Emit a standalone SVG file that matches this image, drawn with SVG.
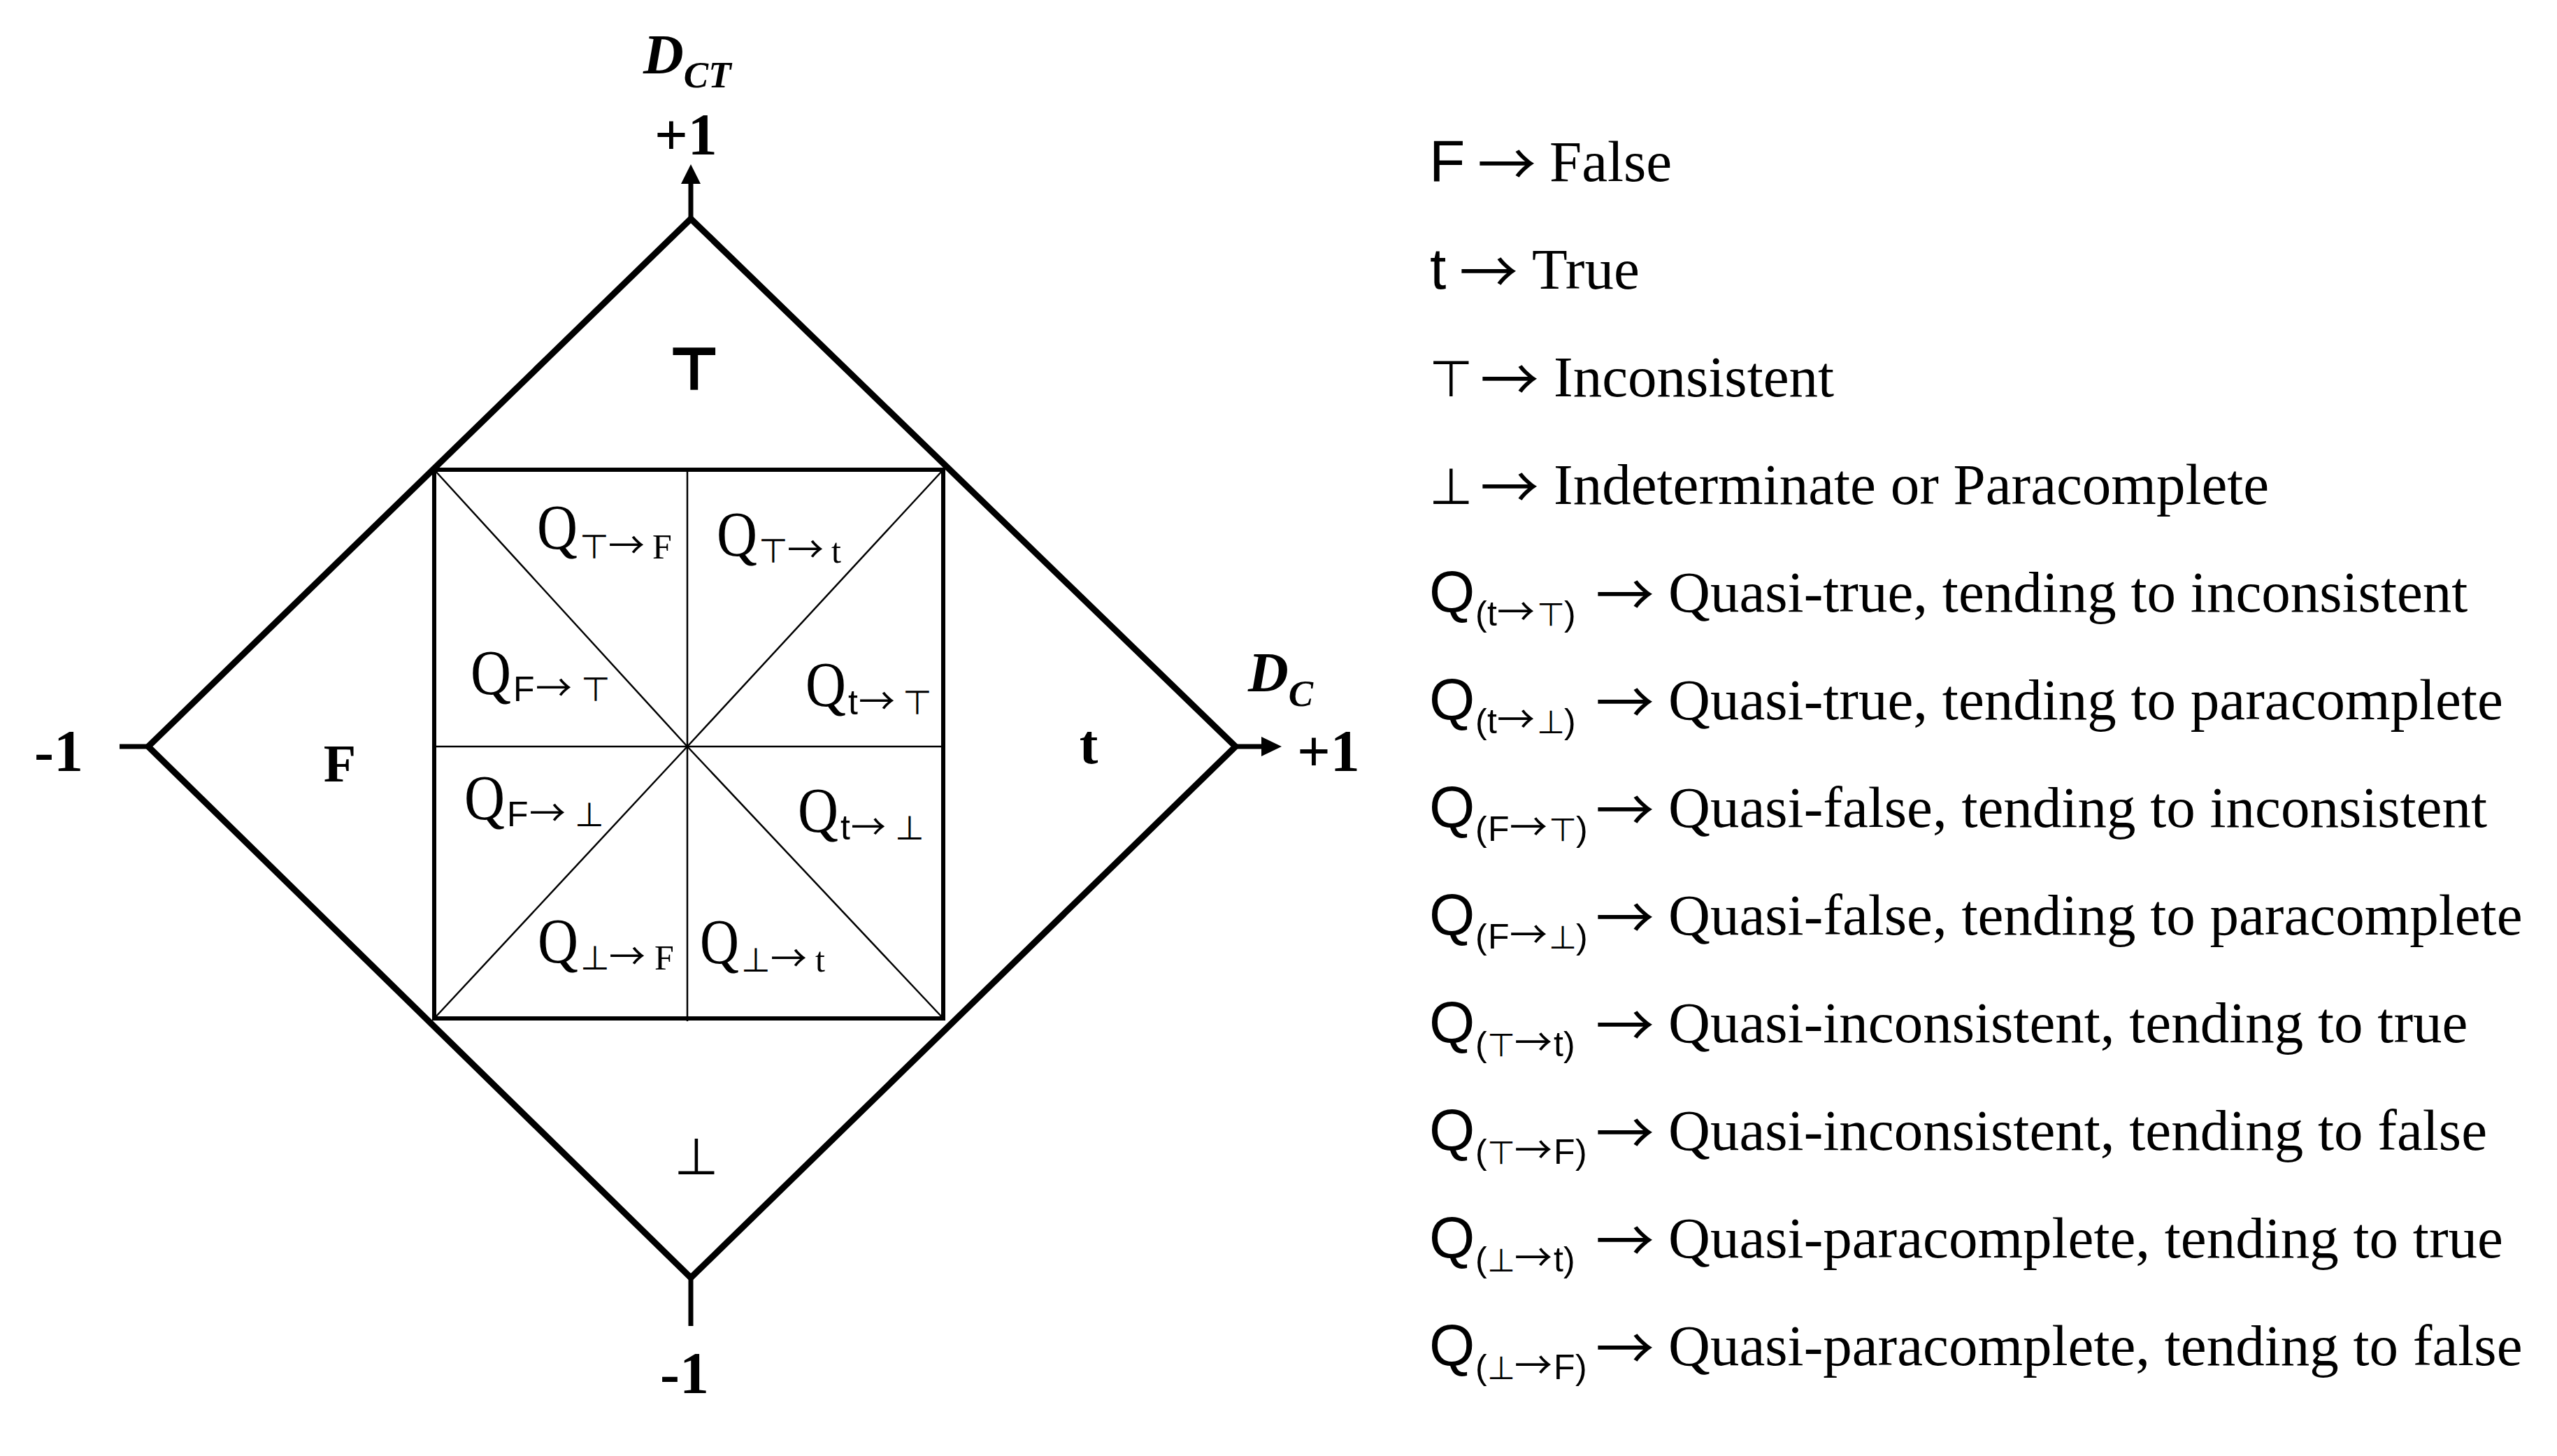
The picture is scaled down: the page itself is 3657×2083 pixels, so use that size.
<svg xmlns="http://www.w3.org/2000/svg" width="3657" height="2083" viewBox="0 0 3657 2083">
<style>
.bg{fill:#fff}
.thick{fill:none;stroke:#000;stroke-width:9;stroke-linejoin:miter}
.sq{fill:none;stroke:#000;stroke-width:6}
.thin{fill:none;stroke:#000;stroke-width:2.5}
.axis{fill:none;stroke:#000;stroke-width:7}
.head{fill:#000}
.tb{font-family:"Liberation Serif","Times New Roman",serif;font-weight:bold;fill:#000}
.tbi{font-family:"Liberation Serif","Times New Roman",serif;font-weight:bold;font-style:italic;fill:#000}
.q{font-family:"Liberation Serif","DejaVu Serif",serif;font-size:90px;fill:#000}
.sb{font-family:"Liberation Serif","DejaVu Serif",serif;font-size:50px;fill:#000}
.sans{font-family:"Liberation Sans","DejaVu Sans",sans-serif}
.sym{font-family:"DejaVu Sans",sans-serif}
.dsym{font-family:"DejaVu Sans",sans-serif;font-size:48px}
.arr{font-family:"Noto Sans CJK SC","DejaVu Sans",sans-serif}
.lg{font-family:"Liberation Serif","DejaVu Serif",serif;font-size:83px;fill:#000}
.lsans{font-family:"Liberation Sans","DejaVu Sans",sans-serif;font-size:84px}
.lsub{font-family:"Liberation Sans","DejaVu Sans",sans-serif;font-size:50px}
.lsym{font-family:"DejaVu Sans",sans-serif;font-size:46px}
.larr{font-family:"Noto Sans CJK SC","DejaVu Sans",sans-serif;font-size:84px}
.sarr{font-family:"Noto Sans CJK SC","DejaVu Sans",sans-serif;font-size:54px}
</style>
<rect class="bg" x="0" y="0" width="3657" height="2083"/>

<g id="connectors">
  <line class="axis" x1="988" y1="313" x2="988" y2="258"/>
  <polygon class="head" points="988,235 974,263 1002,263"/>
  <line class="axis" x1="1767" y1="1068" x2="1806" y2="1068"/>
  <polygon class="head" points="1833,1068 1804,1054 1804,1082"/>
  <line class="axis" x1="171" y1="1068" x2="212" y2="1068"/>
  <line class="axis" x1="988" y1="1828" x2="988" y2="1897"/>
</g>

<g id="diamond">
  <polygon class="thick" points="988,313 1767,1068 988,1828 212,1068"/>
</g>

<g id="inner-square">
  <rect class="sq" x="621" y="672" width="728" height="785"/>
  <line class="thin" x1="983" y1="672" x2="983" y2="1461"/>
  <line class="thin" x1="621" y1="1068" x2="1349" y2="1068"/>
  <line class="thin" x1="621" y1="672" x2="983" y2="1068"/>
  <line class="thin" x1="1349" y1="672" x2="983" y2="1068"/>
  <line class="thin" x1="621" y1="1457" x2="983" y2="1068"/>
  <line class="thin" x1="1349" y1="1457" x2="983" y2="1068"/>
</g>

<g id="axis-labels">
  <text class="tbi" x="920" y="105" font-size="80">D<tspan font-size="53" y="125">CT</tspan></text>
  <text class="tb" x="936" y="221" font-size="84">+1</text>
  <text class="tbi" x="1785" y="989" font-size="80">D<tspan font-size="53" y="1010">C</tspan></text>
  <text class="tb" x="1855" y="1103" font-size="84">+1</text>
  <text class="tb" x="49" y="1103" font-size="84">-1</text>
  <text class="tb" x="944" y="1993" font-size="84">-1</text>
</g>

<g id="region-top"><text class="sym" x="993" y="555" font-size="78" text-anchor="middle" stroke="#000" stroke-width="6">⊤</text></g>
<g id="region-left"><text class="tb" x="486" y="1118" font-size="76" text-anchor="middle">F</text></g>
<g id="region-right"><text class="tb" x="1557" y="1092" font-size="80" text-anchor="middle">t</text></g>
<g id="region-bottom"><text class="sym" x="996" y="1680" font-size="73" text-anchor="middle">⊥</text></g>

<g id="q-top-f">
  <text class="q" x="768" y="785" textLength="58" lengthAdjust="spacingAndGlyphs">Q</text>
  <text class="sb" y="799"><tspan class="dsym" x="829">⊤</tspan><tspan class="arr" font-size="52" x="870">→</tspan><tspan x="933">F</tspan></text>
</g>
<g id="q-top-t">
  <text class="q" x="1025" y="795" textLength="58" lengthAdjust="spacingAndGlyphs">Q</text>
  <text class="sb" y="805"><tspan class="dsym" x="1085">⊤</tspan><tspan class="arr" font-size="52" x="1126">→</tspan><tspan x="1189">t</tspan></text>
</g>
<g id="q-f-top">
  <text class="q" x="673" y="993" textLength="58" lengthAdjust="spacingAndGlyphs">Q</text>
  <text class="sb" y="1003"><tspan class="sans" x="734">F</tspan><tspan class="arr" font-size="52" x="766">→</tspan><tspan class="dsym" x="831">⊤</tspan></text>
</g>
<g id="q-t-top">
  <text class="q" x="1152" y="1010" textLength="58" lengthAdjust="spacingAndGlyphs">Q</text>
  <text class="sb" y="1022"><tspan class="sans" x="1213">t</tspan><tspan class="arr" font-size="52" x="1228">→</tspan><tspan class="dsym" x="1291">⊤</tspan></text>
</g>
<g id="q-f-bot">
  <text class="q" x="664" y="1172" textLength="58" lengthAdjust="spacingAndGlyphs">Q</text>
  <text class="sb" y="1182"><tspan class="sans" x="725">F</tspan><tspan class="arr" font-size="52" x="757">→</tspan><tspan class="dsym" x="822">⊥</tspan></text>
</g>
<g id="q-t-bot">
  <text class="q" x="1141" y="1190" textLength="58" lengthAdjust="spacingAndGlyphs">Q</text>
  <text class="sb" y="1201"><tspan class="sans" x="1202">t</tspan><tspan class="arr" font-size="50" x="1217">→</tspan><tspan class="dsym" x="1280">⊥</tspan></text>
</g>
<g id="q-bot-f">
  <text class="q" x="769" y="1377" textLength="58" lengthAdjust="spacingAndGlyphs">Q</text>
  <text class="sb" y="1387"><tspan class="dsym" x="830">⊥</tspan><tspan class="arr" font-size="52" x="871">→</tspan><tspan x="936">F</tspan></text>
</g>
<g id="q-bot-t">
  <text class="q" x="1001" y="1378" textLength="56" lengthAdjust="spacingAndGlyphs">Q</text>
  <text class="sb" y="1390"><tspan class="dsym" x="1060">⊥</tspan><tspan class="arr" font-size="52" x="1102">→</tspan><tspan x="1166">t</tspan></text>
</g>

<g id="legend">
  <text class="lg" y="259"><tspan class="lsans" x="2044">F</tspan><tspan class="larr" x="2113" y="266">→</tspan><tspan x="2216" y="259">False</tspan></text>
  <text class="lg" y="413"><tspan class="lsans" x="2045">t</tspan><tspan class="larr" x="2087" y="420">→</tspan><tspan x="2191" y="413">True</tspan></text>
  <text class="lg" y="567"><tspan class="sym" font-size="72" x="2044">⊤</tspan><tspan class="larr" x="2117" y="574">→</tspan><tspan x="2222" y="567">Inconsistent</tspan></text>
  <text class="lg" y="721"><tspan class="sym" font-size="72" x="2044">⊥</tspan><tspan class="larr" x="2117" y="728">→</tspan><tspan x="2222" y="721">Indeterminate or Paracomplete</tspan></text>

  <text class="lg" y="875"><tspan class="lsans" x="2044">Q</tspan><tspan class="lsub" y="895"><tspan x="2110">(</tspan><tspan x="2127">t</tspan><tspan class="sarr" x="2141">→</tspan><tspan class="lsym" x="2198">⊤</tspan><tspan x="2237">)</tspan></tspan><tspan class="larr" x="2282" y="882">→</tspan><tspan x="2386" y="875">Quasi-true, tending to inconsistent</tspan></text>
  <text class="lg" y="1029"><tspan class="lsans" x="2044">Q</tspan><tspan class="lsub" y="1049"><tspan x="2110">(</tspan><tspan x="2127">t</tspan><tspan class="sarr" x="2141">→</tspan><tspan class="lsym" x="2198">⊥</tspan><tspan x="2237">)</tspan></tspan><tspan class="larr" x="2282" y="1036">→</tspan><tspan x="2386" y="1029">Quasi-true, tending to paracomplete</tspan></text>
  <text class="lg" y="1183"><tspan class="lsans" x="2044">Q</tspan><tspan class="lsub" y="1203"><tspan x="2110">(</tspan><tspan x="2128">F</tspan><tspan class="sarr" x="2159">→</tspan><tspan class="lsym" x="2215">⊤</tspan><tspan x="2254">)</tspan></tspan><tspan class="larr" x="2282" y="1190">→</tspan><tspan x="2386" y="1183">Quasi-false, tending to inconsistent</tspan></text>
  <text class="lg" y="1337"><tspan class="lsans" x="2044">Q</tspan><tspan class="lsub" y="1357"><tspan x="2110">(</tspan><tspan x="2128">F</tspan><tspan class="sarr" x="2159">→</tspan><tspan class="lsym" x="2215">⊥</tspan><tspan x="2254">)</tspan></tspan><tspan class="larr" x="2282" y="1344">→</tspan><tspan x="2386" y="1337">Quasi-false, tending to paracomplete</tspan></text>
  <text class="lg" y="1491"><tspan class="lsans" x="2044">Q</tspan><tspan class="lsub" y="1511"><tspan x="2110">(</tspan><tspan class="lsym" x="2127">⊤</tspan><tspan class="sarr" x="2166">→</tspan><tspan x="2222">t</tspan><tspan x="2236">)</tspan></tspan><tspan class="larr" x="2282" y="1498">→</tspan><tspan x="2386" y="1491">Quasi-inconsistent, tending to true</tspan></text>
  <text class="lg" y="1645"><tspan class="lsans" x="2044">Q</tspan><tspan class="lsub" y="1665"><tspan x="2110">(</tspan><tspan class="lsym" x="2127">⊤</tspan><tspan class="sarr" x="2166">→</tspan><tspan x="2222">F</tspan><tspan x="2253">)</tspan></tspan><tspan class="larr" x="2282" y="1652">→</tspan><tspan x="2386" y="1645">Quasi-inconsistent, tending to false</tspan></text>
  <text class="lg" y="1799"><tspan class="lsans" x="2044">Q</tspan><tspan class="lsub" y="1819"><tspan x="2110">(</tspan><tspan class="lsym" x="2127">⊥</tspan><tspan class="sarr" x="2166">→</tspan><tspan x="2222">t</tspan><tspan x="2236">)</tspan></tspan><tspan class="larr" x="2282" y="1806">→</tspan><tspan x="2386" y="1799">Quasi-paracomplete, tending to true</tspan></text>
  <text class="lg" y="1953"><tspan class="lsans" x="2044">Q</tspan><tspan class="lsub" y="1973"><tspan x="2110">(</tspan><tspan class="lsym" x="2127">⊥</tspan><tspan class="sarr" x="2166">→</tspan><tspan x="2222">F</tspan><tspan x="2253">)</tspan></tspan><tspan class="larr" x="2282" y="1960">→</tspan><tspan x="2386" y="1953">Quasi-paracomplete, tending to false</tspan></text>
</g>
</svg>
